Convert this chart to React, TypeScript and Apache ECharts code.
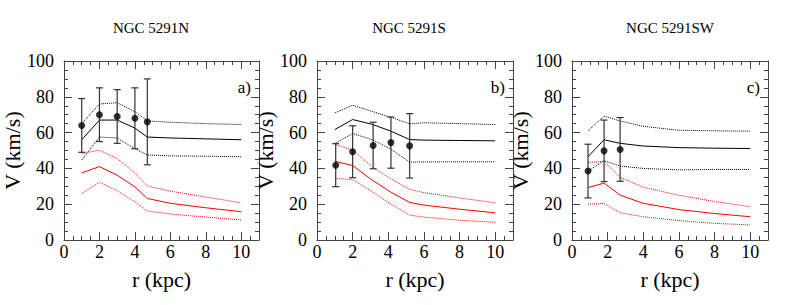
import React, { useEffect, useRef } from "react";
import * as echarts from "echarts";

// ---------- data ----------
const panelTitles = ["NGC 5291N", "NGC 5291S", "NGC 5291SW"];
const panelTags = ["a)", "b)", "c)"];
const xTickLabels = [0, 2, 4, 6, 8, 10];
const yTickLabels = [0, 20, 40, 60, 80, 100];

// NGC 5291N
const obsN_r = [1.0, 2.0, 3.0, 4.0, 4.7];
const obsN_v = [64, 70, 69, 68, 66];
const obsN_err = [15, 15, 15, 17, 24];
const modN_r = [1, 2, 3, 4, 4.7, 6, 8, 10];
const blackN = [56, 67, 67, 62.5, 57.5, 57, 56.5, 56];
const blackN_up = [65, 76, 76.7, 71.7, 66.5, 65.8, 65, 64.5];
const blackN_low = [44.7, 57.5, 57, 51, 47.5, 47, 46.8, 46.5];
const redN = [37.5, 41, 36.2, 29.7, 23.2, 20.5, 18, 15.8];
const redN_up = [48.3, 50.2, 45.5, 37.5, 30.1, 27.3, 24, 20.8];
const redN_low = [26, 32.2, 27.5, 21.4, 16.2, 14.5, 12.8, 11.2];

// NGC 5291S
const obsS_r = [1.05, 2.0, 3.15, 4.15, 5.2];
const obsS_v = [41.8, 49.3, 52.8, 54.4, 52.6];
const obsS_err = [12, 14.5, 13, 14.3, 18];
const modS_r = [1, 2, 3.1, 4.1, 5.2, 6, 8, 10];
const blackS = [61.7, 67.3, 64.6, 61, 56.1, 55.8, 55.6, 55.4];
const blackS_up = [71, 75.3, 71.8, 68.7, 64.9, 65.5, 65, 64.5];
const blackS_low = [53.9, 59.5, 56, 51, 43.5, 43.6, 43.7, 43.7];
const redS = [44, 41.6, 33.5, 27, 21, 19.5, 17.2, 15.2];
const redS_up = [53.5, 50.2, 40.9, 34.4, 28.3, 26.5, 23.5, 20.8];
const redS_low = [34.4, 33.8, 27, 20.4, 13.9, 12.8, 11, 9.9];

// NGC 5291SW
const obsSW_r = [0.9, 1.8, 2.7];
const obsSW_v = [38.5, 49.8, 50.6];
const obsSW_err = [15, 17.2, 17.8];
const modSW_r = [0.9, 1.8, 2.7, 4, 6, 8, 10];
const blackSW = [46.5, 56, 54, 52.5, 51.6, 51.3, 51.1];
const blackSW_up = [61, 69.2, 66.5, 63.5, 61.3, 61, 60.8];
const blackSW_low = [38.5, 44.3, 41.3, 40, 39.2, 39.4, 39.4];
const redSW = [29.3, 31.8, 25.1, 20.5, 17, 14.8, 13];
const redSW_up = [43.3, 44, 35, 29.5, 25, 21.5, 18.6];
const redSW_low = [20, 20.4, 15.2, 13, 10.8, 9.3, 8.4];

const panels = [
  { obsR: obsN_r, obsV: obsN_v, obsE: obsN_err, modR: modN_r, black: blackN, blackUp: blackN_up, blackLow: blackN_low, red: redN, redUp: redN_up, redLow: redN_low },
  { obsR: obsS_r, obsV: obsS_v, obsE: obsS_err, modR: modS_r, black: blackS, blackUp: blackS_up, blackLow: blackS_low, red: redS, redUp: redS_up, redLow: redS_low },
  { obsR: obsSW_r, obsV: obsSW_v, obsE: obsSW_err, modR: modSW_r, black: blackSW, blackUp: blackSW_up, blackLow: blackSW_low, red: redSW, redUp: redSW_up, redLow: redSW_low },
];

// ---------- layout ----------
const FONT = "Liberation Serif";
const gridBoxes = [
  { left: 64, width: 195 },
  { left: 317, width: 196 },
  { left: 572, width: 196 },
];
const GRID_TOP = 61;
const GRID_H = 179;
const titlePos = [151, 409, 670];
const AXIS_COLOR = "#444";

function buildOption() {
  const grid: any[] = [];
  const xAxis: any[] = [];
  const yAxis: any[] = [];
  const series: any[] = [];
  const graphic: any[] = [];

  gridBoxes.forEach((g, gi) => {
    grid.push({ left: g.left, width: g.width, top: GRID_TOP, height: GRID_H, containLabel: false });

    const baseX = {
      gridIndex: gi,
      type: "value",
      min: 0,
      max: 11,
      splitLine: { show: false },
    };
    xAxis.push({
      ...baseX,
      position: "bottom",
      interval: 2,
      axisLine: { show: true, onZero: false, lineStyle: { color: AXIS_COLOR, width: 1 } },
      axisTick: { show: true, inside: true, length: 8, lineStyle: { color: AXIS_COLOR } },
      axisLabel: {
        show: true,
        margin: 3,
        fontFamily: FONT,
        fontSize: 18,
        color: "#000",
        formatter: (v: number) => (xTickLabels.indexOf(v) >= 0 ? String(v) : ""),
      },
      name: "r (kpc)",
      nameLocation: "middle",
      nameGap: 28,
      nameTextStyle: { fontFamily: FONT, fontSize: 22, color: "#000" },
    });
    xAxis.push({
      ...baseX,
      position: "bottom",
      interval: 0.5,
      axisLine: { show: false, onZero: false },
      axisTick: { show: true, inside: true, length: 4, lineStyle: { color: AXIS_COLOR } },
      axisLabel: { show: false },
    });
    xAxis.push({
      ...baseX,
      position: "top",
      interval: 2,
      axisLine: { show: true, onZero: false, lineStyle: { color: AXIS_COLOR, width: 1 } },
      axisTick: { show: true, inside: true, length: 8, lineStyle: { color: AXIS_COLOR } },
      axisLabel: { show: false },
    });
    xAxis.push({
      ...baseX,
      position: "top",
      interval: 0.5,
      axisLine: { show: false, onZero: false },
      axisTick: { show: true, inside: true, length: 4, lineStyle: { color: AXIS_COLOR } },
      axisLabel: { show: false },
    });

    const baseY = {
      gridIndex: gi,
      type: "value",
      min: 0,
      max: 100,
      interval: 20,
      splitLine: { show: false },
      axisLine: { show: true, onZero: false, lineStyle: { color: AXIS_COLOR, width: 1 } },
      axisTick: { show: true, inside: true, length: 8, lineStyle: { color: AXIS_COLOR } },
      minorTick: { show: true, splitNumber: 4, length: 4, lineStyle: { color: AXIS_COLOR } },
      minorSplitLine: { show: false },
    };
    yAxis.push({
      ...baseY,
      position: "left",
      axisLabel: {
        show: true,
        margin: 10,
        fontFamily: FONT,
        fontSize: 18,
        color: "#000",
        formatter: (v: number) => (yTickLabels.indexOf(v) >= 0 ? String(v) : ""),
      },
      name: "V (km/s)",
      nameLocation: "middle",
      nameGap: 27,
      nameRotate: 90,
      nameTextStyle: { fontFamily: FONT, fontSize: 22, color: "#000" },
    });
    yAxis.push({
      ...baseY,
      position: "right",
      axisLabel: { show: false },
    });

    const p = panels[gi];
    const xi = gi * 4;
    const yi = gi * 2;
    const mk = (vals: number[]) => p.modR.map((r, i) => [r, vals[i]]);
    const lineSeries = (vals: number[], color: string, dotted: boolean) => ({
      type: "line",
      xAxisIndex: xi,
      yAxisIndex: yi,
      data: mk(vals),
      symbol: "none",
      showSymbol: false,
      silent: true,
      smooth: false,
      lineStyle: { color, width: 1, type: dotted ? [1, 1] : "solid" },
      z: 2,
    });
    series.push(lineSeries(p.blackUp, "#000", true));
    series.push(lineSeries(p.black, "#000", false));
    series.push(lineSeries(p.blackLow, "#000", true));
    series.push(lineSeries(p.redUp, "#ff0000", true));
    series.push(lineSeries(p.red, "#ff0000", false));
    series.push(lineSeries(p.redLow, "#ff0000", true));

    series.push({
      type: "custom",
      xAxisIndex: xi,
      yAxisIndex: yi,
      silent: true,
      z: 3,
      data: p.obsR.map((r, i) => [r, p.obsV[i] - p.obsE[i], p.obsV[i] + p.obsE[i]]),
      renderItem: (params: any, api: any) => {
        const x = api.value(0);
        const lo = api.coord([x, api.value(1)]);
        const hi = api.coord([x, api.value(2)]);
        const w = 3.5;
        const style = { stroke: "#333", lineWidth: 1.2 };
        return {
          type: "group",
          children: [
            { type: "line", shape: { x1: hi[0], y1: hi[1], x2: lo[0], y2: lo[1] }, style },
            { type: "line", shape: { x1: hi[0] - w, y1: hi[1], x2: hi[0] + w, y2: hi[1] }, style },
            { type: "line", shape: { x1: lo[0] - w, y1: lo[1], x2: lo[0] + w, y2: lo[1] }, style },
          ],
        };
      },
    });
    series.push({
      type: "scatter",
      xAxisIndex: xi,
      yAxisIndex: yi,
      data: p.obsR.map((r, i) => [r, p.obsV[i]]),
      symbol: "circle",
      symbolSize: 7,
      itemStyle: { color: "#000" },
      silent: true,
      z: 4,
    });

    graphic.push({
      type: "text",
      x: titlePos[gi],
      y: 28,
      style: {
        text: panelTitles[gi],
        fontFamily: FONT,
        fontSize: 15,
        fill: "#000",
        align: "center",
        verticalAlign: "middle",
      },
    });
    graphic.push({
      type: "text",
      x: g.left + g.width - 8,
      y: 87,
      style: {
        text: panelTags[gi],
        fontFamily: FONT,
        fontSize: 17,
        fill: "#000",
        align: "right",
        verticalAlign: "middle",
      },
    });
  });

  return {
    animation: false,
    backgroundColor: "#fff",
    textStyle: { fontFamily: FONT },
    grid,
    xAxis,
    yAxis,
    series,
    graphic,
  };
}

export default function App() {
  const ref = useRef<HTMLDivElement>(null);
  useEffect(() => {
    const el = ref.current;
    if (!el) return;
    const chart = echarts.init(el, null, { renderer: "svg" });
    const fixFonts = () => {
      el.querySelectorAll("text").forEach((t) => {
        (t as SVGTextElement).style.fontFamily = '"Liberation Serif", serif';
      });
    };
    chart.on("finished", fixFonts);
    chart.setOption(buildOption() as any);
    fixFonts();
    return () => chart.dispose();
  }, []);
  return (
    <div
      ref={ref}
      style={{ position: "fixed", left: 0, top: 0, width: 790, height: 305, background: "#fff" }}
    />
  );
}
